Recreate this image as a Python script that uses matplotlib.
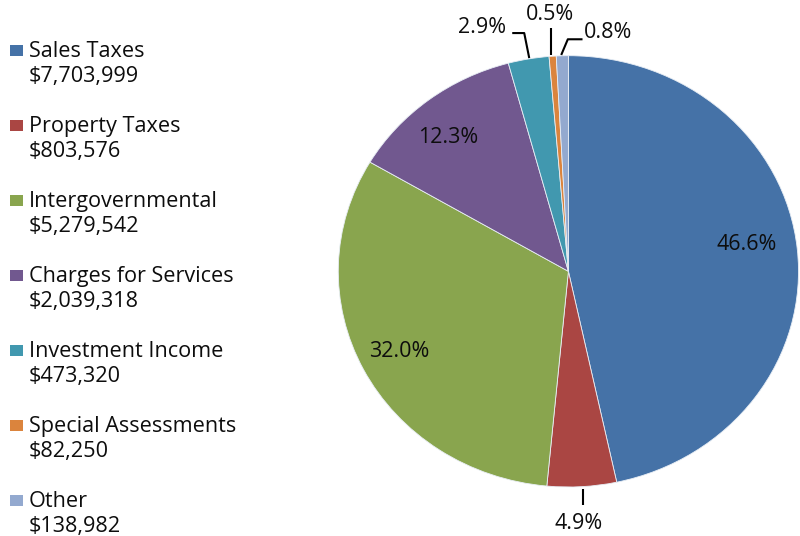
import matplotlib
matplotlib.use('Agg')
import matplotlib.pyplot as plt
import numpy as np
from matplotlib.patches import Rectangle

categories = ["Sales Taxes", "Property Taxes", "Intergovernmental", "Charges for Services",
              "Investment Income", "Special Assessments", "Other"]
amounts = [7703999, 803576, 5279542, 2039318, 473320, 82250, 138982]
colors = ["#4572A7", "#AA4643", "#89A54E", "#71588F", "#4198AF", "#DB843D", "#93A9CF"]

W, H = 800, 536
plt.rcParams['font.family'] = ['Open Sans', 'DejaVu Sans']
fig = plt.figure(figsize=(W / 100, H / 100), dpi=100)

# pie axes (slightly wider than tall, like the reference)
ax = fig.add_axes([338.3 / W, (H - 487) / H, 460.2 / W, 431.3 / H])
wedges, _ = ax.pie(amounts, colors=colors, startangle=90, counterclock=False,
                   wedgeprops=dict(linewidth=0.6, edgecolor='#e8eef5'))
ax.set_aspect('auto')
ax.set_xlim(-1, 1)
ax.set_ylim(-1, 1)
ax.axis('off')

total = float(sum(amounts))
pct_labels = [f"{a / total * 100:.1f}%" for a in amounts]
FS_PIE = 15.5
FS_LEG = 15.6
TXT = '#0d0d0d'

fig.canvas.draw()
inv = ax.transData.inverted()

# inside labels: anchor at r=0.8 on mid angle, plus small pixel nudge (x centre, baseline; y down)
inside = {0: (-4.4, -3.0), 2: (-4.9, 7.1), 3: (-8.1, 8.8)}
for i, (dx, dy) in inside.items():
    w = wedges[i]
    mid = np.deg2rad((w.theta1 + w.theta2) / 2)
    px, py = ax.transData.transform((0.8 * np.cos(mid), 0.8 * np.sin(mid)))
    tx, ty = inv.transform((px + dx, py - dy))
    ax.text(tx, ty, pct_labels[i], ha='center', va='baseline', fontsize=FS_PIE, color=TXT)

# outside labels: leader polyline offsets and text (centre x, baseline) offsets from edge point
outside = {
    1: ([(1, 2.5), (1, 18.5)], (-3.5, 42.5)),
    4: ([(0.7, -0.9), (-4.3, -25.9), (-16.3, -25.9)], (-46.8, -25.9)),
    5: ([(-1.5, -1.2), (-1.5, -28.5)], (-2.7, -36.2)),
    6: ([(-1.1, -0.8), (5.5, -16.5), (20.2, -16.5)], (45.7, -17.8)),
}
for i, (pts, toff) in outside.items():
    w = wedges[i]
    mid = np.deg2rad((w.theta1 + w.theta2) / 2)
    ex, ey = ax.transData.transform((np.cos(mid), np.sin(mid)))
    disp = np.array([(ex + dx, ey - dy) for dx, dy in pts])
    dat = inv.transform(disp)
    ax.plot(dat[:, 0], dat[:, 1], color='black', lw=1.5, clip_on=False, solid_capstyle='butt')
    tx, ty = inv.transform((ex + toff[0], ey - toff[1]))
    ax.text(tx, ty, pct_labels[i], ha='center', va='baseline', fontsize=FS_PIE,
            color=TXT, clip_on=False)

# legend
for k, (name, amt, c) in enumerate(zip(categories, amounts, colors)):
    yc = 50.3 + 75 * k
    fig.patches.append(Rectangle((10 / W, 1 - (yc + 5.5) / H), 12.5 / W, 11 / H,
                                 transform=fig.transFigure, facecolor=c, edgecolor='none'))
    fig.text(29 / W, 1 - (yc + 6.5) / H, name, ha='left', va='baseline',
             fontsize=FS_LEG, color=TXT)
    fig.text(29 / W, 1 - (yc + 32) / H, f"${amt:,}", ha='left', va='baseline',
             fontsize=FS_LEG, color=TXT)

fig.savefig('out.png', dpi=100, facecolor='white')
